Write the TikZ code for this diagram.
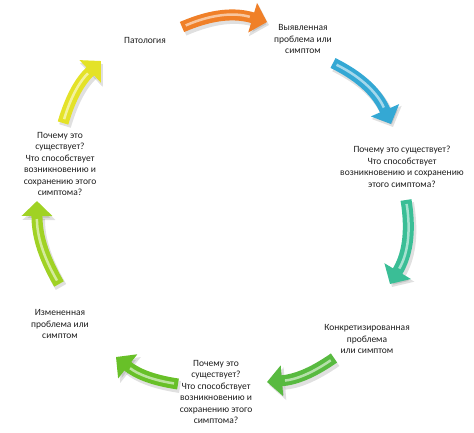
\documentclass[tikz,border=0pt]{standalone}
\usepackage{fontspec}
\setmainfont{Carlito}
\usetikzlibrary{arrows.meta, calc, positioning}
\definecolor{arrOrange}{RGB}{240,128,40}
\definecolor{arrBlue}{RGB}{52,168,212}
\definecolor{arrTeal}{RGB}{58,190,150}
\definecolor{arrGreen}{RGB}{88,186,64}
\definecolor{arrLeaf}{RGB}{104,192,40}
\definecolor{arrLime}{RGB}{160,210,36}
\definecolor{arrYellow}{RGB}{228,226,40}
\definecolor{txtGray}{RGB}{30,30,30}

\begin{document}
\begin{tikzpicture}[x=1pt, y=-1pt,
    stage/.style={align=center, font=\fontsize{9.5}{11.5}\selectfont, text=txtGray, inner sep=0pt},
    flow/.style={line width=11pt, draw=#1, -{Triangle[length=15pt, width=30pt]},
      postaction={draw=#1!45!white, line width=2.5pt, -, shorten >=18pt, shorten <=4pt}},
    flowshadow/.style={line width=12pt, draw=black, opacity=0.12,
      -{Triangle[length=16pt, width=32pt]}, transform canvas={shift={(2pt,-3pt)}}}]
    \useasboundingbox (0,0) rectangle (474,432);

    % --- Stages of the cycle ---
    \node[stage] (pat) at (145,40) {Патология};
    \node[stage] (found) at (303,39) {Выявленная\\проблема или\\симптом};
    \node[stage] (whyR) at (402,167) {Почему это существует?\\Что способствует\\возникновению и сохранению\\этого симптома?};
    \node[stage] (spec) at (367,339) {Конкретизированная\\проблема\\или симптом};
    \node[stage] (whyB) at (216,392) {Почему это\\существует?\\Что способствует\\возникновению и\\сохранению этого\\симптома?};
    \node[stage] (changed) at (60,324) {Измененная\\проблема или\\симптом};
    \node[stage] (whyL) at (60,164) {Почему это\\существует?\\Что способствует\\возникновению и\\сохранению этого\\симптома?};

    % --- Arrow ends ---
    \coordinate (o_tail) at (182,27);
    \coordinate (o_head) at (267,22);
    \coordinate (b_tail) at (333,63);
    \coordinate (b_head) at (391,124);
    \coordinate (t_tail) at (406,200);
    \coordinate (t_head) at (390,284);
    \coordinate (g_tail) at (334,358);
    \coordinate (g_head) at (267,382);
    \coordinate (l_tail) at (178,384);
    \coordinate (l_head) at (116,357);
    \coordinate (m_tail) at (59,284);
    \coordinate (m_head) at (37,201);
    \coordinate (y_tail) at (63,123);
    \coordinate (y_head) at (101,61);

    % --- Shadows ---
    \draw[flowshadow] (o_tail) to[bend left=20] (o_head);
    \draw[flowshadow] (b_tail) to[bend left=20] (b_head);
    \draw[flowshadow] (t_tail) to[bend left=20] (t_head);
    \draw[flowshadow] (g_tail) to[bend left=15] (g_head);
    \draw[flowshadow] (l_tail) to[bend left=15] (l_head);
    \draw[flowshadow] (m_tail) to[bend left=15] (m_head);
    \draw[flowshadow] (y_tail) to[bend left=15] (y_head);

    % --- Arrows ---
    \draw[flow=arrOrange] (o_tail) to[bend left=20] (o_head);
    \draw[flow=arrBlue] (b_tail) to[bend left=20] (b_head);
    \draw[flow=arrTeal] (t_tail) to[bend left=20] (t_head);
    \draw[flow=arrGreen] (g_tail) to[bend left=15] (g_head);
    \draw[flow=arrLeaf] (l_tail) to[bend left=15] (l_head);
    \draw[flow=arrLime] (m_tail) to[bend left=15] (m_head);
    \draw[flow=arrYellow] (y_tail) to[bend left=15] (y_head);
\end{tikzpicture}
\end{document}
